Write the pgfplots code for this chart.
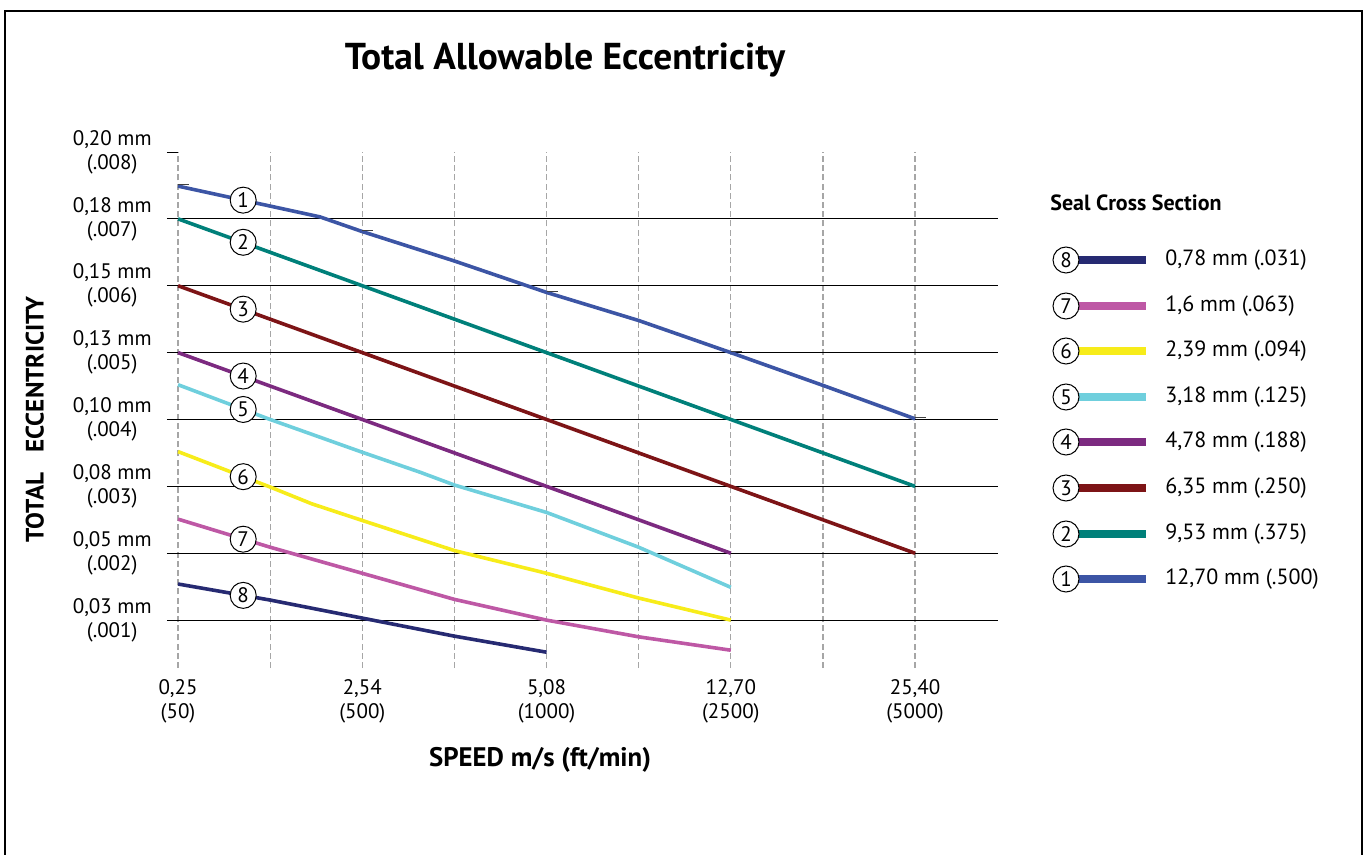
\documentclass[border=0pt]{standalone}
\usepackage{fontspec}
\setmainfont{PT Sans}
\usepackage{pgfplots}
\pgfplotsset{compat=1.18}
\definecolor{c1}{RGB}{60,85,165}
\definecolor{c2}{RGB}{0,128,122}
\definecolor{c3}{RGB}{125,20,22}
\definecolor{c4}{RGB}{124,42,128}
\definecolor{c5}{RGB}{111,207,221}
\definecolor{c6}{RGB}{247,236,26}
\definecolor{c7}{RGB}{190,88,165}
\definecolor{c8}{RGB}{38,42,114}
\pgfdeclareplotmark{rdash}{\pgfpathmoveto{\pgfpointorigin}\pgfpathlineto{\pgfpoint{5.5pt}{0pt}}\pgfusepathqstroke}
\newcommand{\tfont}{\fontsize{10.5}{12}\selectfont}
\tikzset{num/.style={circle, draw=black, fill=white, inner sep=0pt, minimum size=13pt, line width=0.5pt, font=\tfont}}
\begin{document}
\begin{tikzpicture}
\useasboundingbox (0,0) rectangle (683.5pt,-427.5pt);
\draw[line width=1.1pt] (2.5pt,-5.5pt) rectangle (680.8pt,-450pt);
\begin{axis}[
  at={(83.5pt,-334pt)}, anchor=south west,
  width=415.5pt, height=258pt, scale only axis,
  xmin=-0.12, xmax=8.9, ymin=0.284, ymax=8,
  clip=false,
  axis line style={draw=none},
  major tick length=0pt,
  xtick={0,...,8},
  xticklabels={{0,25\\(50)},{},{2,54\\(500)},{},{5,08\\(1000)},{},{12,70\\(2500)},{},{25,40\\(5000)}},
  ytick={1,...,7},
  yticklabels={{0,03 mm\\(.001)},{0,05 mm\\(.002)},{0,08 mm\\(.003)},{0,10 mm\\(.004)},{0,13 mm\\(.005)},{0,15 mm\\(.006)},{0,18 mm\\(.007)}},
  extra y ticks={8},
  extra y tick labels={{0{,}20 mm\\(.008)}},
  extra y tick style={grid=none},
  xmajorgrids, ymajorgrids,
  x grid style={black!35, dash pattern=on 3pt off 1.6pt, line width=0.6pt},
  y grid style={black, line width=0.5pt},
  ticklabel style={font=\tfont, align=center},
  yticklabel style={inner sep=0pt, xshift=-7.5pt},
  xticklabel style={inner sep=0pt, yshift=-5.5pt},
  every axis title shift=0pt,
  title={Total Allowable Eccentricity},
  title style={at={(rel axis cs:0.479,1.178)}, anchor=center, font=\bfseries\fontsize{18.7}{22}\selectfont},
  xlabel={SPEED m/s (ft/min)},
  xlabel style={at={(rel axis cs:0.449,-0.178)}, anchor=center, font=\bfseries\fontsize{13.4}{16}\selectfont},
  ylabel={TOTAL\hspace{0.8em}ECCENTRICITY},
  ylabel style={at={(rel axis cs:-0.159,0.481)}, anchor=center, font=\bfseries\fontsize{12.6}{15}\selectfont},
  every axis plot/.append style={line width=1.8pt},
]
\addplot[c1, mark=none] coordinates {(0,7.49)(1.54,7.03)(2,6.81)(3,6.37)(4,5.90)(5,5.48)(6,5.0)(7,4.51)(8,4.01)};
\addplot[c2, mark=none] coordinates {(0,7)(2,6)(4,5)(6,4)(8,3)};
\addplot[c3, mark=none] coordinates {(0,6)(2,5)(4,4)(6,3)(8,2)};
\addplot[c4, mark=none] coordinates {(0,5)(2,4)(4,3)(6,2)};
\addplot[c5, mark=none] coordinates {(0,4.52)(1,4.0)(2,3.51)(2.63,3.21)(3,3.02)(4,2.61)(5,2.09)(6,1.49)};
\addplot[c6, mark=none] coordinates {(0,3.52)(1,2.99)(1.45,2.74)(2,2.49)(3,2.04)(4,1.70)(5,1.33)(6,1.0)};
\addplot[c7, mark=none] coordinates {(0,2.51)(1,2.09)(2,1.70)(3,1.31)(4,1.0)(5,0.75)(6,0.55)};
\addplot[c8, mark=none] coordinates {(0,1.54)(1,1.30)(2,1.03)(3,0.76)(4,0.52)};
\addplot[only marks, mark=rdash, black!75, line width=0.5pt] coordinates {(0,7.51)(2,6.83)(4,5.92)(6,5.02)(8,4.03)};
\draw[black, line width=0.5pt] (axis cs:-0.12,8) -- (axis cs:0,8);
\node[num] at (axis cs:0.707,7.28) {1};
\node[num] at (axis cs:0.707,6.65) {2};
\node[num] at (axis cs:0.707,5.65) {3};
\node[num] at (axis cs:0.707,4.65) {4};
\node[num] at (axis cs:0.707,4.15) {5};
\node[num] at (axis cs:0.707,3.145) {6};
\node[num] at (axis cs:0.707,2.21) {7};
\node[num] at (axis cs:0.707,1.37) {8};
\end{axis}
\begin{scope}[x=0.5pt,y=-0.5pt]
\node[anchor=west, inner sep=0pt, font=\bfseries\fontsize{11}{13}\selectfont] at (1050,203) {Seal Cross Section};
\foreach \n/\c/\y/\t in {8/c8/260/{0,78 mm (.031)},7/c7/306/{1,6 mm (.063)},6/c6/351/{2,39 mm (.094)},5/c5/397/{3,18 mm (.125)},4/c4/442/{4,78 mm (.188)},3/c3/488/{6,35 mm (.250)},2/c2/534/{9,53 mm (.375)},1/c1/579/{12,70 mm (.500)}}{
  \draw[\c, line width=4pt] (1075,\y) -- (1146,\y);
  \node[num] at (1066,\y) {\n};
  \node[anchor=west, inner sep=0pt, font=\fontsize{11}{13}\selectfont] at (1165,\y) {\t};
}
\end{scope}
\end{tikzpicture}
\end{document}
